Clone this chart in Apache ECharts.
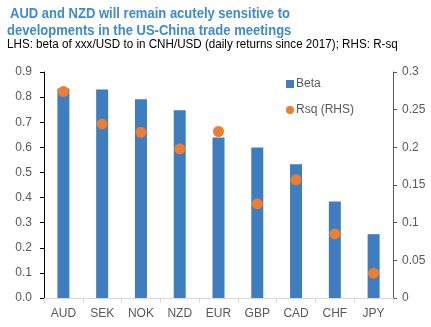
<!DOCTYPE html>
<html><head><meta charset="utf-8">
<script src="https://cdn.jsdelivr.net/npm/echarts@6/dist/echarts.min.js"></script>
<style>html,body{margin:0;padding:0;background:#fff}#c{width:431px;height:327px}</style>
</head><body><div id="c"></div>
<script>
const categories = ['AUD','SEK','NOK','NZD','EUR','GBP','CAD','CHF','JPY'];
const beta = [0.834, 0.830, 0.791, 0.748, 0.639, 0.599, 0.533, 0.384, 0.254];
const rsq = [0.274, 0.231, 0.220, 0.198, 0.221, 0.125, 0.157, 0.085, 0.033];
const titleLines = ['AUD and NZD will remain acutely sensitive to', 'developments in the US-China trade meetings'];
const subtitle = 'LHS: beta of xxx/USD to in CNH/USD (daily returns since 2017); RHS: R-sq';

const chart = echarts.init(document.getElementById('c'), null, {renderer:'canvas'});
const font = 'Liberation Sans, Arial, sans-serif';
chart.setOption({
  animation: false,
  textStyle: {fontFamily: font},
  graphic: [
    {type: 'text', x: 10, y: 14, scaleX: 0.868, silent: true,
     style: {text: titleLines[0], font: 'bold 15px ' + font, fill: '#3d8bcd', verticalAlign: 'middle'}},
    {type: 'text', x: 7, y: 31, scaleX: 0.868, silent: true,
     style: {text: titleLines[1], font: 'bold 15px ' + font, fill: '#3d8bcd', verticalAlign: 'middle'}},
    {type: 'text', x: 7, y: 45, scaleX: 0.97, silent: true,
     style: {text: subtitle, font: '12px ' + font, fill: '#000', verticalAlign: 'middle'}}
  ],
  legend: {
    orient: 'vertical', left: 286, top: 78, itemGap: 14, itemWidth: 8, itemHeight: 8,
    padding: 0,
    textStyle: {fontFamily: font, fontSize: 12, color: '#595959', padding: [0,0,0,-3]},
    data: [{name: 'Beta', icon: 'rect'}, {name: 'Rsq (RHS)', icon: 'circle'}]
  },
  grid: {left: 44, right: 38, top: 72, bottom: 29, containLabel: false},
  xAxis: {
    type: 'category', data: categories,
    axisLine: {lineStyle: {color: '#d9d9d9', width: 1}},
    axisTick: {show: true, length: 5, lineStyle: {color: '#d9d9d9'}},
    axisLabel: {fontFamily: font, fontSize: 12, color: '#595959', margin: 10}
  },
  yAxis: [
    {type: 'value', min: 0, max: 0.9, interval: 0.1, position: 'left',
     splitLine: {show: false},
     axisLine: {show: true, lineStyle: {color: '#000'}},
     axisTick: {show: true, length: 4, lineStyle: {color: '#000'}},
     axisLabel: {fontFamily: font, fontSize: 12, color: '#595959', margin: 12,
       formatter: v => v.toFixed(1)}},
    {type: 'value', min: 0, max: 0.3, interval: 0.05, position: 'right',
     splitLine: {show: false},
     axisLine: {show: true, lineStyle: {color: '#595959'}},
     axisTick: {show: true, length: 4, lineStyle: {color: '#595959'}},
     axisLabel: {fontFamily: font, fontSize: 12, color: '#595959', margin: 9,
       formatter: v => String(+v.toFixed(2))}}
  ],
  series: [
    {name: 'Beta', type: 'bar', data: beta, barWidth: 12, yAxisIndex: 0,
     itemStyle: {color: '#3e7dbf'}},
    {name: 'Rsq (RHS)', type: 'scatter', data: rsq, yAxisIndex: 1, symbol: 'circle', symbolSize: 11,
     itemStyle: {color: '#ed7d31', opacity: 1}}
  ]
});
</script></body></html>
